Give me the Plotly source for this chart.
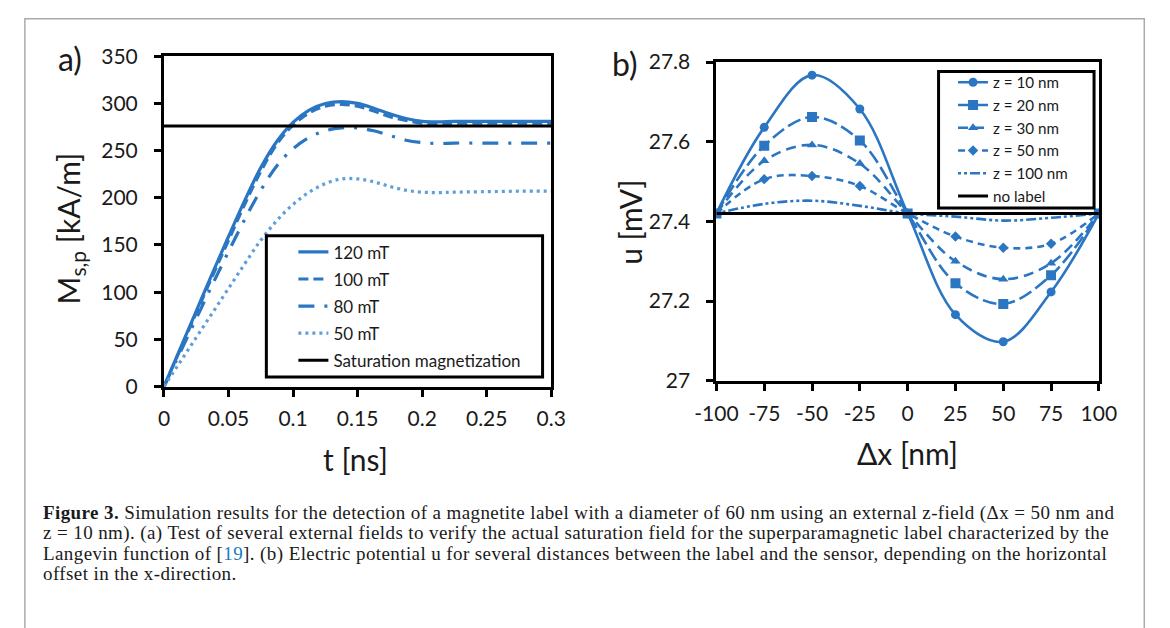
import plotly.graph_objects as go

W, H = 1170, 628
def px(x): return x / W
def py(y): return 1 - y / H

BLUE = "#2B76C2"
LIGHT = "#5E9FDA"
FONT = "Lato"
TXT = "#1a1a1a"

# ---------------- panel a data ----------------
t_ns = [0, 0.0125, 0.025, 0.0375, 0.05, 0.0625, 0.075, 0.0875, 0.1, 0.1125, 0.125,
        0.1375, 0.15, 0.1625, 0.175, 0.1875, 0.2, 0.2125, 0.225, 0.25, 0.275, 0.3]
m_120 = [0, 40, 80, 120, 159, 197, 232, 260, 280, 293, 300, 302, 300, 295, 289, 284,
         281, 280.5, 281, 281, 281, 281]
m_100 = [0, 39, 78, 117, 155, 193, 228, 257, 277, 290, 297, 299, 297, 292, 286, 282,
         279, 278.5, 279, 279, 279, 279]
m_80 = [0, 36, 72, 108, 143, 177, 208, 234, 252, 264, 271, 274, 274, 271, 266, 261,
        258.5, 257.5, 258, 258, 258, 258]
m_50 = [0, 26, 52, 78, 104, 130, 155, 176, 193, 206, 215, 220, 220, 217, 212, 208,
        206, 205.5, 206, 206.5, 207, 207]
m_sat = 276
a_names = ["120 mT", "100 mT", "80 mT", "50 mT", "Saturation magnetization"]

# ---------------- panel b data ----------------
dx_nm = [-100, -75, -50, -25, 0, 25, 50, 75, 100]
u_z10 = [27.42, 27.636, 27.767, 27.682, 27.42, 27.166, 27.098, 27.223, 27.42]
u_z20 = [27.42, 27.590, 27.662, 27.603, 27.42, 27.245, 27.193, 27.265, 27.42]
u_z30 = [27.42, 27.552, 27.592, 27.545, 27.42, 27.300, 27.255, 27.295, 27.42]
u_z50 = [27.42, 27.506, 27.514, 27.489, 27.42, 27.362, 27.334, 27.344, 27.42]
u_z100 = [27.42, 27.444, 27.452, 27.439, 27.42, 27.412, 27.402, 27.409, 27.42]
u_none = 27.42
b_names = ["z = 10 nm", "z = 20 nm", "z = 30 nm", "z = 50 nm", "z = 100 nm", "no label"]

a_xticks = [0, 0.05, 0.1, 0.15, 0.2, 0.25, 0.3]
a_xticktext = ["0", "0.05", "0.1", "0.15", "0.2", "0.25", "0.3"]
a_yticks = [0, 50, 100, 150, 200, 250, 300, 350]
b_xticks = [-100, -75, -50, -25, 0, 25, 50, 75, 100]
b_xticktext = ["-100", "-75", "-50", "-25", "0", "25", "50", "75", "100"]
b_yticks = [27, 27.2, 27.4, 27.6, 27.8]
b_yticktext = ["27", "27.2", "27.4", "27.6", "27.8"]

fig = go.Figure()

# panel a traces
a_series = [m_120, m_100, m_80, m_50]
a_dash = ["solid", "10px,5px", "16px,10px,3px,10px", "3px,4px"]
a_col = [BLUE, BLUE, BLUE, LIGHT]
for i, ys in enumerate(a_series):
    fig.add_trace(go.Scatter(x=t_ns, y=ys, mode="lines", name=a_names[i],
                             line=dict(color=a_col[i], width=3.2, dash=a_dash[i], shape="spline"),
                             xaxis="x", yaxis="y", legend="legend",
                             legendgroup="a%d" % i))
fig.add_trace(go.Scatter(x=[t_ns[0], t_ns[-1]], y=[m_sat, m_sat], mode="lines", name=a_names[4],
                         line=dict(color="black", width=3), xaxis="x", yaxis="y",
                         legend="legend", legendgroup="a4"))

# panel b traces
b_series = [u_z10, u_z20, u_z30, u_z50]
b_dash = ["solid", "14px,5px", "10px,6px", "7px,5px"]
b_sym = ["circle", "square", "triangle-up", "diamond"]
b_size = [9, 10, 9, 8]
for i, ys in enumerate(b_series):
    fig.add_trace(go.Scatter(x=dx_nm, y=ys, mode="lines+markers", name=b_names[i],
                             line=dict(color=BLUE, width=2.6, dash=b_dash[i], shape="spline"),
                             marker=dict(symbol=b_sym[i], size=b_size[i], color=BLUE),
                             xaxis="x2", yaxis="y2", legend="legend2"))
fig.add_trace(go.Scatter(x=dx_nm, y=u_z100, mode="lines", name=b_names[4],
                         line=dict(color=BLUE, width=2.6, dash="3px,3px,3px,3px,10px,3px", shape="spline"),
                         xaxis="x2", yaxis="y2", legend="legend2"))
fig.add_trace(go.Scatter(x=[dx_nm[0], dx_nm[-1]], y=[u_none, u_none], mode="lines", name=b_names[5],
                         line=dict(color="black", width=3), xaxis="x2", yaxis="y2", legend="legend2"))

axis_common = dict(showline=True, linecolor="black", linewidth=3, mirror=True,
                   ticks="outside", ticklen=7, tickwidth=2.5, tickcolor="black",
                   showgrid=False, zeroline=False,
                   tickfont=dict(family=FONT, size=21, color=TXT))

fig.update_layout(
    width=W, height=H, autosize=False,
    margin=dict(l=0, r=0, t=0, b=0),
    paper_bgcolor="white", plot_bgcolor="white",
    xaxis=dict(domain=[px(147), px(548)], range=[0, 0.3], tickvals=a_xticks,
               ticktext=a_xticktext, anchor="y", ticklabelstandoff=4, **axis_common),
    yaxis=dict(domain=[py(388), py(44)], range=[0, 350], tickvals=a_yticks,
               anchor="x", ticklabelstandoff=12, **axis_common),
    xaxis2=dict(domain=[px(719), px(1115)], range=[-100, 100], tickvals=b_xticks,
                ticktext=b_xticktext, anchor="y2", ticklabelstandoff=5, **axis_common),
    yaxis2=dict(domain=[py(382), py(50)], range=[27, 27.8], tickvals=b_yticks,
                ticktext=b_yticktext, anchor="x2", ticklabelstandoff=12, **axis_common),
    legend=dict(x=px(281), y=py(229.5), xanchor="left", yanchor="top",
                bgcolor="rgba(0,0,0,0)", borderwidth=0,
                font=dict(family=FONT, size=17, color=TXT),
                traceorder="grouped", tracegroupgap=2),
    legend2=dict(x=px(964), y=py(54), xanchor="left", yanchor="top",
                 bgcolor="rgba(0,0,0,0)", borderwidth=0,
                 font=dict(family=FONT, size=15.2, color=TXT)),
    showlegend=True,
)

# legend frames (opaque boxes)
fig.add_shape(type="rect", xref="paper", yref="paper", x0=px(253), x1=px(539),
              y0=py(378), y1=py(231), line=dict(color="black", width=3),
              fillcolor="white", layer="above")
fig.add_shape(type="rect", xref="paper", yref="paper", x0=px(949), x1=px(1110),
              y0=py(202), y1=py(60), line=dict(color="black", width=3),
              fillcolor="white", layer="above")

ann = []
def label(text, x, y, size, angle=0):
    ann.append(dict(text=text, x=px(x), y=py(y), xref="paper", yref="paper",
                    showarrow=False, xanchor="center", yanchor="middle", textangle=angle,
                    font=dict(family=FONT, size=size, color=TXT)))

label("a)", 50, 46, 32)
label("b)", 624, 52, 32)
label("t [ns]", 345, 463, 30)
label("Δx [nm]", 917, 457, 30)
label("M<sub>s,p</sub> [kA/m]", 50, 223, 30, -90)
label("u [mV]", 630, 217, 30, -90)

caption = [
    "<b>Figure 3.</b> Simulation results for the detection of a magnetite label with a diameter of 60 nm using an external z-field (Δx = 50 nm and",
    "z = 10 nm). (a) Test of several external fields to verify the actual saturation field for the superparamagnetic label characterized by the",
    "Langevin function of [<span style='color:#1a7bbf'>19</span>]. (b) Electric potential u for several distances between the label and the sensor, depending on the horizontal",
    "offset in the x-direction.",
]
cap_y = [520, 541, 562, 583]
for txt, yy in zip(caption, cap_y):
    ann.append(dict(text="<span style='letter-spacing:0.4px'>" + txt + "</span>",
                    x=px(20), y=py(yy), xref="paper", yref="paper",
                    showarrow=False, xanchor="left", yanchor="middle",
                    font=dict(family="Liberation Serif", size=19, color=TXT)))

fig.update_layout(annotations=ann)

fig.add_shape(type="rect", xref="paper", yref="paper", x0=px(3), x1=px(1162),
              y0=py(660), y1=py(5), line=dict(color="#aaaaaa", width=1.5), layer="below")

fig.write_html("out.html", config={"displayModeBar": False},
               post_script="document.body.style.margin='0';document.body.style.overflow='hidden';")
